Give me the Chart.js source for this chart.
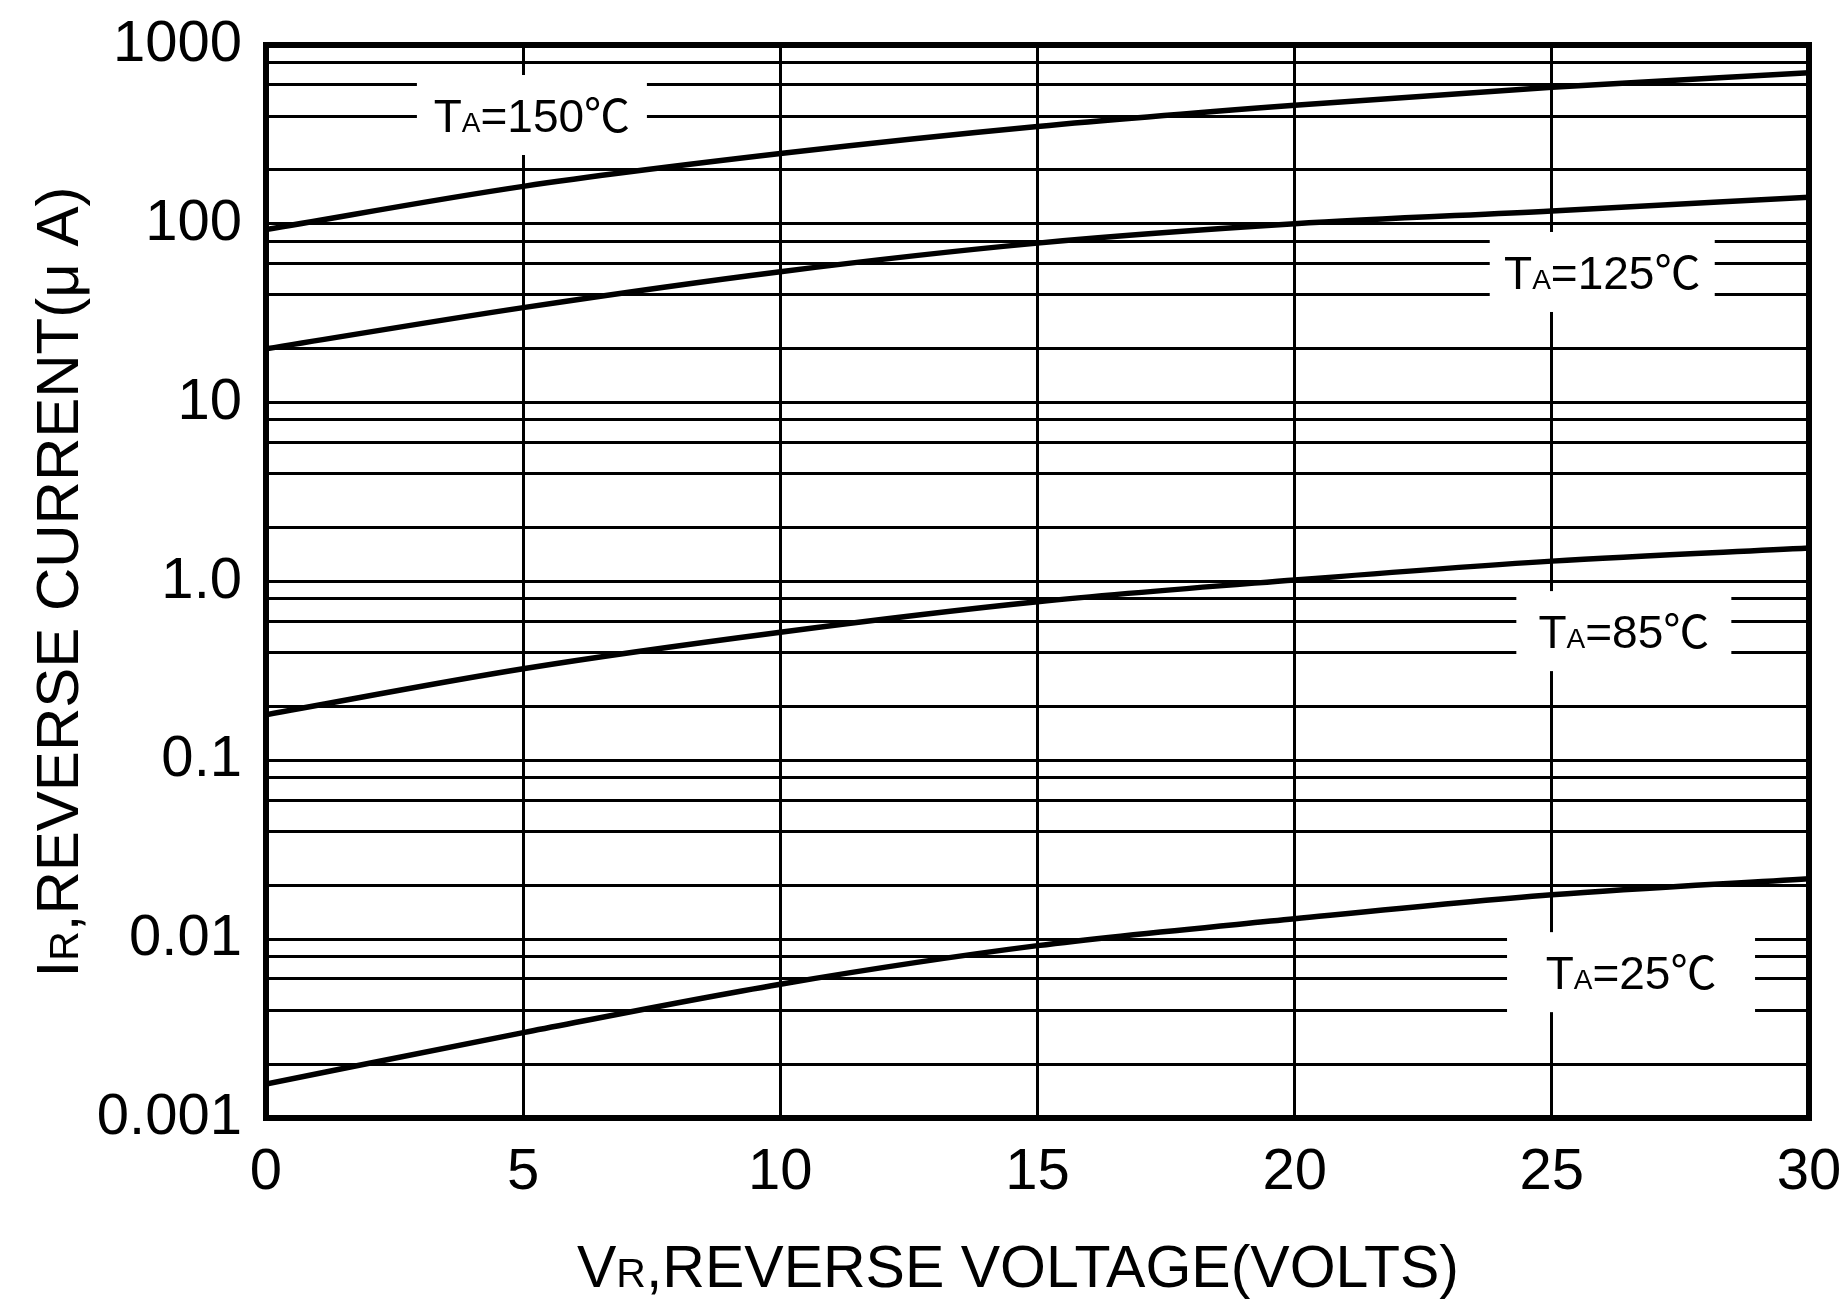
<!DOCTYPE html>
<html>
<head>
<meta charset="utf-8">
<script src="https://cdn.jsdelivr.net/npm/chart.js@4.4.0/dist/chart.umd.min.js"></script>
<style>
	html, body { margin: 0; padding: 0; background: #fff; }
	#wrap { width: 1845px; height: 1304px; }
</style>
</head>
<body>
<div id="wrap"><canvas id="ir_chart" width="1845" height="1304"></canvas></div>
<script>
'use strict';

// reverse voltage (V) where the curves were read
var voltage = [0, 5, 10, 15, 20, 25, 30];

// reverse current (uA) per ambient temperature
var ir_150 = [93, 162, 247, 350, 460, 580, 700];
var ir_125 = [20, 34, 54, 78, 100, 118, 141];
var ir_85 = [0.18, 0.325, 0.52, 0.77, 1.02, 1.30, 1.54];
var ir_25 = [0.00155, 0.0030, 0.0056, 0.0092, 0.0130, 0.0177, 0.0218];

// axis ticks / grid
var x_ticks = [0, 5, 10, 15, 20, 25, 30];
var y_grid = [0.001, 0.002, 0.004, 0.006, 0.008,
	0.01, 0.02, 0.04, 0.06, 0.08,
	0.1, 0.2, 0.4, 0.6, 0.8,
	1, 2, 4, 6, 8,
	10, 20, 40, 60, 80,
	100, 200, 400, 600, 800,
	1000];
var y_decades = [0.001, 0.01, 0.1, 1, 10, 100, 1000];
var y_labels = ["0.001", "0.01", "0.1", "1.0", "10", "100", "1000"];

// curve tags: temperature text and where they sit (volts, uA)
var tag_temp = ["150", "125", "85", "25"];
var tag_v = [5.17, 25.98, 26.4, 26.54];
var tag_i = [406, 53.8, 0.528, 0.00654];

(function(){

	var FONT = "'Liberation Sans', Arial, 'Noto Sans CJK SC', sans-serif";
	var tag_box_w = [230, 225, 215, 248];

	var points = function(ys){
		return voltage.map(function(v, i){ return {x: v, y: ys[i]}; });
	};

	var curve = function(label, ys){
		return {
			label: label,
			data: points(ys),
			borderColor: "#000",
			borderWidth: 5.5,
			pointRadius: 0,
			fill: false,
			cubicInterpolationMode: "monotone"
		};
	};

	// draw a run of text pieces with different sizes on one baseline
	var draw_parts = function(ctx, parts, cx, base){
		var total = 0;
		parts.forEach(function(p){
			ctx.font = p[1] + "px " + FONT;
			total += ctx.measureText(p[0]).width;
		});
		var x = cx - total / 2;
		ctx.textBaseline = "alphabetic";
		ctx.textAlign = "left";
		parts.forEach(function(p){
			ctx.font = p[1] + "px " + FONT;
			ctx.fillText(p[0], x, base);
			x += ctx.measureText(p[0]).width;
		});
	};

	var extras = {
		id: "extras",
		afterDatasetsDraw: function(chart){
			var ctx = chart.ctx;
			var xs = chart.scales.x, ys = chart.scales.y;
			var area = chart.chartArea;
			ctx.save();

			// temperature tags on white boxes
			for (var i = 0; i < tag_temp.length; i++){
				var px = xs.getPixelForValue(tag_v[i]);
				var py = ys.getPixelForValue(tag_i[i]);
				ctx.fillStyle = "#fff";
				ctx.fillRect(px - tag_box_w[i] / 2, py - 40, tag_box_w[i], 80);
				ctx.fillStyle = "#000";
				draw_parts(ctx, [["T", 46], ["A", 28], ["=" + tag_temp[i] + "\u2103", 46]], px, py + 17);
			}

			// heavy frame
			ctx.lineWidth = 6;
			ctx.strokeStyle = "#000";
			ctx.strokeRect(area.left, area.top, area.right - area.left, area.bottom - area.top);

			// axis titles
			ctx.fillStyle = "#000";
			draw_parts(ctx, [["V", 59], ["R", 41], [",REVERSE VOLTAGE(VOLTS)", 59]], 1018, 1287);

			ctx.translate(78, 582);
			ctx.rotate(-Math.PI / 2);
			draw_parts(ctx, [["I", 60], ["R", 41], [",REVERSE CURRENT(\u03bc A)", 60]], 0, 0);

			ctx.restore();
		}
	};

	var ctx = document.getElementById("ir_chart").getContext("2d");
	new Chart(ctx, {
		type: "line",
		data: {
			datasets: [
				curve("TA=150", ir_150),
				curve("TA=125", ir_125),
				curve("TA=85", ir_85),
				curve("TA=25", ir_25)
			]
		},
		options: {
			responsive: false,
			animation: false,
			devicePixelRatio: 1,
			layout: { padding: { top: 45, right: 36, left: 0, bottom: 0 } },
			plugins: {
				legend: { display: false },
				tooltip: { enabled: false }
			},
			scales: {
				x: {
					type: "linear",
					min: 0,
					max: 30,
					afterBuildTicks: function(scale){
						scale.ticks = x_ticks.map(function(v){ return {value: v}; });
					},
					afterFit: function(scale){
						scale.height = 186;
						// keep the plot edges where the layout padding puts them
						scale.paddingLeft = 0;
						scale.paddingRight = 0;
					},
					border: { display: false },
					grid: { color: "#000", lineWidth: 3, drawTicks: false, tickLength: 0 },
					ticks: {
						color: "#000",
						padding: 20,
						maxRotation: 0,
						font: { family: FONT, size: 58 }
					}
				},
				y: {
					type: "logarithmic",
					min: 0.001,
					max: 1000,
					afterBuildTicks: function(scale){
						scale.ticks = y_grid.map(function(v){ return {value: v}; });
					},
					afterFit: function(scale){
						scale.width = 266;
						scale.paddingTop = 0;
						scale.paddingBottom = 0;
					},
					border: { display: false },
					grid: { color: "#000", lineWidth: 3, drawTicks: false, tickLength: 0 },
					ticks: {
						color: "#000",
						padding: 24,
						autoSkip: false,
						font: { family: FONT, size: 58 },
						callback: function(value){
							for (var k = 0; k < y_decades.length; k++){
								if (Math.abs(value - y_decades[k]) < y_decades[k] * 1e-6){
									return y_labels[k];
								}
							}
							return "";
						}
					}
				}
			}
		},
		plugins: [extras]
	});

})();
</script>
</body>
</html>
